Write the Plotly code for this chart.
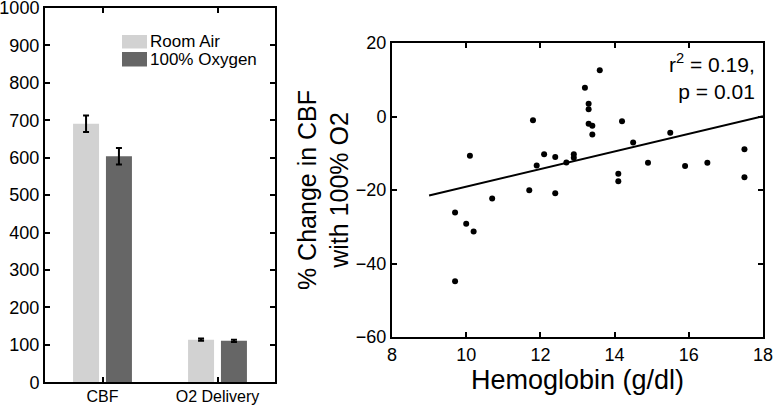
import plotly.graph_objects as go

# ---- Left chart data ----
categories = ["CBF", "O2 Delivery"]
series_names = ["Room Air", "100% Oxygen"]
room_air = [691, 114]
room_air_err = [22, 3]
oxygen = [604, 111]
oxygen_err = [22, 3]
left_yticks = [0, 100, 200, 300, 400, 500, 600, 700, 800, 900, 1000]

# ---- Right chart data ----
hemoglobin = [13.6, 13.2, 13.3, 13.3, 11.8, 13.3, 13.4, 13.4, 14.2, 15.5,
              14.5, 12.1, 12.4, 12.9, 12.9, 12.7, 11.9, 14.9, 15.9, 16.5,
              17.5, 17.5, 14.1, 14.1, 11.7, 12.4, 10.7, 10.1, 9.7, 10.0,
              10.2, 9.7]
pct_change = [12.6, 7.8, 3.5, 2.0, -1.0, -2.0, -2.5, -4.9, -1.3, -4.4,
              -7.1, -10.3, -11.0, -10.3, -11.2, -12.5, -13.3, -12.6, -13.5, -12.6,
              -8.9, -16.5, -15.6, -17.6, -20.1, -20.9, -22.3, -10.7, -26.1, -29.2,
              -31.3, -44.8]
fit_x = [9.0, 18.0]
fit_y = [-21.5, 0.1]
right_xticks = [8, 10, 12, 14, 16, 18]
right_yticks = [-60, -40, -20, 0, 20]

FONT = "Liberation Sans, Arial, Helvetica, sans-serif"
W, H = 774, 407
BAR_COLORS = ["#d2d2d2", "#666666"]


def px_x(v):
    return v / W


def px_y(v):
    return 1 - v / H


fig = go.Figure()

for name, vals, errs, col in zip(series_names, [room_air, oxygen],
                                 [room_air_err, oxygen_err], BAR_COLORS):
    fig.add_trace(go.Bar(
        x=categories, y=vals, name=name,
        marker=dict(color=col, line=dict(width=0)),
        error_y=dict(type="data", array=errs, color="black", thickness=2, width=3),
        xaxis="x", yaxis="y", showlegend=False,
    ))

fig.add_trace(go.Scatter(
    x=hemoglobin, y=pct_change, mode="markers",
    marker=dict(color="black", size=6),
    showlegend=False, xaxis="x2", yaxis="y2",
))
fig.add_trace(go.Scatter(
    x=fit_x, y=fit_y, mode="lines",
    line=dict(color="black", width=2),
    showlegend=False, xaxis="x2", yaxis="y2",
))

axis_common = dict(
    showline=True, linecolor="black", linewidth=2, mirror="ticks",
    ticks="inside", ticklen=5, tickwidth=1.5, tickcolor="black",
    showgrid=False, zeroline=False, automargin=False,
    ticklabeloverflow="allow",
)

# manual legend (bigger swatches as in the reference)
shapes = []
annotations = []
legend_rows = [(35, 48.5), (52, 66.5)]
for (y0, y1), name, col in zip(legend_rows, series_names, BAR_COLORS):
    shapes.append(dict(type="rect", xref="paper", yref="paper",
                       x0=px_x(122), x1=px_x(147), y0=px_y(y1), y1=px_y(y0),
                       fillcolor=col, line=dict(width=0)))
    annotations.append(dict(text=name, xref="paper", yref="paper",
                            x=px_x(148), y=px_y((y0 + y1) / 2),
                            xanchor="left", yanchor="middle", showarrow=False,
                            font=dict(size=17, family=FONT)))

annotations.append(dict(
    text="r<sup>2</sup> = 0.19,<br>p = 0.01", xref="x2", yref="y2",
    x=17.85, y=18.6, xanchor="right", yanchor="top", align="right",
    showarrow=False, font=dict(size=21, family=FONT)))

fig.update_layout(
    width=W, height=H,
    margin=dict(l=0, r=0, t=0, b=0),
    paper_bgcolor="white", plot_bgcolor="white",
    font=dict(family=FONT, color="black"),
    barmode="group", bargap=0.428, bargroupgap=0.21,
    showlegend=False,
    xaxis=dict(
        domain=[45/W, 275/W], range=[-0.5, 1.5], anchor="y",
        tickfont=dict(size=16), ticklabelstandoff=-2, **axis_common,
    ),
    yaxis=dict(
        domain=[24.7/H, 399/H], range=[0, 1000], anchor="x",
        tickvals=left_yticks, tickfont=dict(size=18), **axis_common,
    ),
    xaxis2=dict(
        domain=[392/W, 763/W], range=[8, 18], anchor="y2",
        tickvals=right_xticks, tickfont=dict(size=18),
        title=dict(text="Hemoglobin (g/dl)", font=dict(size=27), standoff=3),
        **axis_common,
    ),
    yaxis2=dict(
        domain=[70/H, 364/H], range=[-60, 20], anchor="x2",
        tickvals=right_yticks, tickfont=dict(size=18),
        title=dict(text="% Change in CBF<br>with 100% O2", font=dict(size=25), standoff=0),
        **axis_common,
    ),
    shapes=shapes,
    annotations=annotations,
)

fig.write_html("out.html", config={"displayModeBar": False},
               post_script="document.body.style.margin='0';document.body.style.overflow='hidden';")
